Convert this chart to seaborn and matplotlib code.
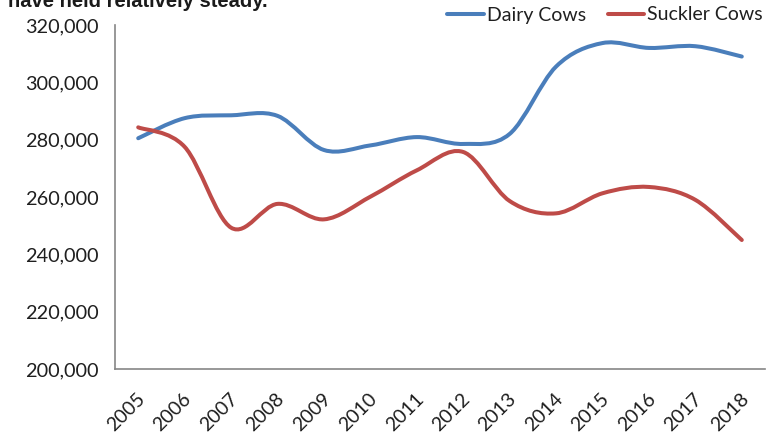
"""Dairy vs suckler cow numbers, 2005-2018 (Excel-style smoothed lines)."""
import matplotlib

matplotlib.use("Agg")
import matplotlib.pyplot as plt
import numpy as np
import pandas as pd
import seaborn as sns
from matplotlib.lines import Line2D
from matplotlib.patches import PathPatch
from matplotlib.path import Path
from matplotlib.ticker import FixedLocator, FuncFormatter
from matplotlib.transforms import ScaledTranslation

YEARS = ["2005", "2006", "2007", "2008", "2009", "2010", "2011",
         "2012", "2013", "2014", "2015", "2016", "2017", "2018"]
DAIRY = [280500, 287500, 288500, 288300, 276400, 278000, 280900,
         278500, 282000, 305500, 313700, 312000, 312600, 309000]
SUCKLER = [284300, 277500, 249300, 257600, 252200, 260100, 269300,
           275700, 258600, 254300, 261300, 263500, 259000, 245000]
SERIES = ["Dairy Cows", "Suckler Cows"]
COLORS = {"Dairy Cows": "#4a7ebb", "Suckler Cows": "#be4b48"}
Y_TICKS = list(range(200000, 320001, 20000))

AXIS_GREY = "#868686"
TEXT = "#1f1f1f"


def smooth_path(xs, ys):
    """Catmull-Rom style cubic Bezier through the points (like Excel's smoothed line)."""
    pts = np.column_stack([xs, ys])
    p = np.vstack([pts[0], pts, pts[-1]])
    verts, codes = [pts[0]], [Path.MOVETO]
    for i in range(1, len(p) - 2):
        c1 = p[i] + (p[i + 1] - p[i - 1]) / 6
        c2 = p[i + 1] - (p[i + 2] - p[i]) / 6
        verts += [c1, c2, p[i + 1]]
        codes += [Path.CURVE4] * 3
    return Path(verts, codes)


def main() -> None:
    sns.set_style("white")
    plt.rcParams["font.family"] = ["Lato", "DejaVu Sans"]

    df = pd.DataFrame({
        "pos": list(range(len(YEARS))) * 2,
        "valor": DAIRY + SUCKLER,
        "serie": [SERIES[0]] * len(YEARS) + [SERIES[1]] * len(YEARS),
    })

    fig = plt.figure(figsize=(7.71, 4.33), dpi=100)
    ax = fig.add_axes([115 / 771, 1 - 369 / 433, 650 / 771, (369 - 25) / 433])
    sns.lineplot(data=df, x="pos", y="valor", hue="serie", palette=COLORS,
                 hue_order=SERIES, legend=False, ax=ax)

    # troca as linhas retas por curvas suavizadas
    for line, nome in zip(list(ax.lines), SERIES):
        xs, ys = line.get_data()
        line.set_visible(False)
        ax.add_patch(PathPatch(smooth_path(xs, ys), fill=False, edgecolor=COLORS[nome],
                               lw=2.9, capstyle="round", joinstyle="round"))

    ax.set_xlim(-0.5, len(YEARS) - 0.5)
    ax.set_ylim(Y_TICKS[0], Y_TICKS[-1])
    ax.set_yticks(Y_TICKS)
    ax.yaxis.set_major_formatter(FuncFormatter(lambda v, _: f"{v:,.0f}"))
    ax.set_xticks(range(len(YEARS)))
    ax.set_xticklabels(YEARS, rotation=45, ha="right", va="top", rotation_mode="anchor")
    ax.xaxis.set_minor_locator(FixedLocator(np.arange(-0.5, len(YEARS), 1.0)))
    ax.tick_params(axis="x", which="major", length=0, pad=15, labelsize=14, labelcolor=TEXT)
    ax.tick_params(axis="x", which="minor", length=5, width=1, color=AXIS_GREY, direction="out")
    ax.tick_params(axis="y", length=6, width=1, color=AXIS_GREY, direction="out",
                   pad=6, labelsize=14.3, labelcolor=TEXT)
    ax.set_xlabel("")
    ax.set_ylabel("")
    for lado in ["top", "right"]:
        ax.spines[lado].set_visible(False)
    for lado in ["left", "bottom"]:
        ax.spines[lado].set_color(AXIS_GREY)
        ax.spines[lado].set_linewidth(1.2)
    ax.grid(False)

    # desloca rótulos do eixo x um pouco para a esquerda, como no Excel
    shift = ScaledTranslation(-2 / 100, 0, fig.dpi_scale_trans)
    for lbl in ax.get_xticklabels():
        lbl.set_transform(lbl.get_transform() + shift)

    handles = [Line2D([0], [0], color=COLORS[s], lw=2.9) for s in SERIES]
    fig.legend(handles, SERIES, loc="center right", bbox_to_anchor=(763 / 771, 1 - 15 / 433),
               ncol=2, frameon=False, fontsize=14, handlelength=1.9, handletextpad=0.15,
               columnspacing=1.1, labelcolor=TEXT, borderaxespad=0, borderpad=0)

    fig.text(8 / 771, 1 - 7 / 433, "have held relatively steady.", fontsize=14.5,
             fontweight="bold", family=["Liberation Sans", "DejaVu Sans"],
             color="#1a1a1a", va="baseline", ha="left")

    fig.savefig("out.png", dpi=100)
    plt.close(fig)


if __name__ == "__main__":
    main()
